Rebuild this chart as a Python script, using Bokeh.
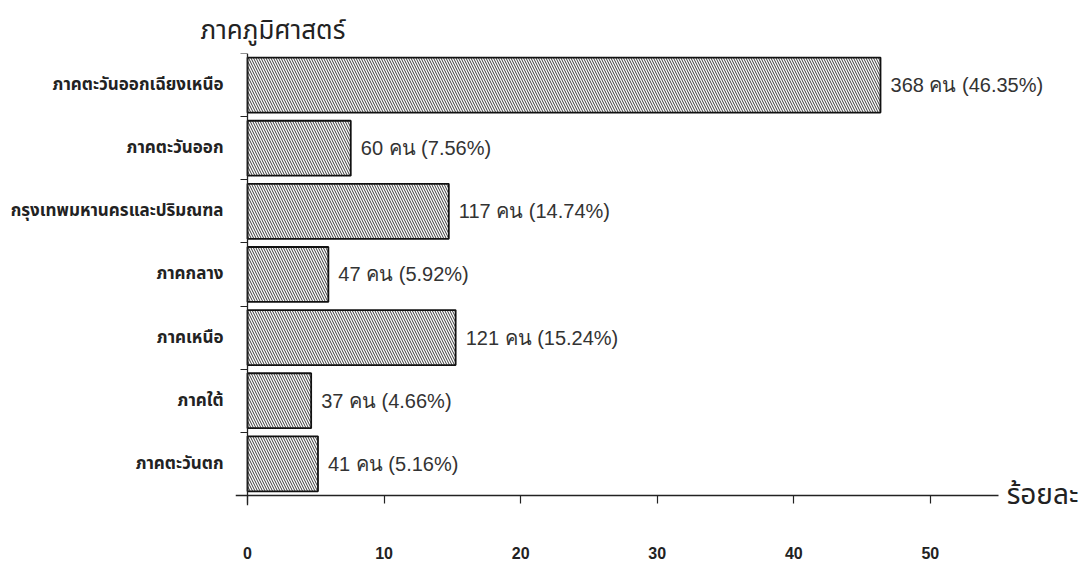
from bokeh.plotting import figure
from bokeh.models import Range1d, FixedTicker, LinearAxis, ColumnDataSource
from bokeh.embed import file_html
from bokeh.resources import INLINE
from bokeh.core.properties import value

regions = ["ภาคตะวันออกเฉียงเหนือ", "ภาคตะวันออก", "กรุงเทพมหานครและปริมณฑล",
           "ภาคกลาง", "ภาคเหนือ", "ภาคใต้", "ภาคตะวันตก"]
counts = [368, 60, 117, 47, 121, 37, 41]
percents = [46.35, 7.56, 14.74, 5.92, 15.24, 4.66, 5.16]
x_ticks = [0, 10, 20, 30, 40, 50]
title_text = "ภาคภูมิศาสตร์"
x_title = "ร้อยละ"
unit = "คน"

n = len(regions)
centers = [n - i - 0.5 for i in range(n)]
boundaries = list(range(n + 1))
labels = [f"{c} {unit} ({p:.2f}%)" for c, p in zip(counts, percents)]
src = ColumnDataSource(dict(y=centers, right=percents, label=labels))

X0, XAX = -0.88, 55          # visible extent of the horizontal axis line
X1 = 61.8                    # frame extends to the right edge for the unit label
Y0 = -0.16

THAI = "Noto Sans Thai, Noto Sans, sans-serif"
INK = "#222222"

p = figure(width=1091, height=570, x_range=Range1d(X0, X1), y_range=Range1d(Y0, n),
           output_backend="svg", toolbar_location=None,
           min_border_left=235, min_border_right=0, min_border_top=53, min_border_bottom=65)
p.outline_line_color = None
p.xgrid.visible = False
p.ygrid.visible = False

p.title.text = title_text
p.title.align = "left"
p.title.vertical_align = "top"
p.title.offset = -35
p.title.text_font = THAI
p.title.text_font_style = "normal"
p.title.text_font_size = "26px"
p.title.text_color = INK
p.title.standoff = 2

# category names (left panel, no line / ticks)
ylab = p.left[0]
ylab.ticker = FixedTicker(ticks=centers)
ylab.major_label_overrides = {c: r for c, r in zip(centers, regions)}
ylab.axis_line_color = None
ylab.major_tick_line_color = None
ylab.minor_tick_line_color = None
ylab.major_label_standoff = 6
ylab.major_label_text_font = THAI
ylab.major_label_text_font_style = "bold"
ylab.major_label_text_font_size = "17px"
ylab.major_label_text_color = INK

# tick numbers (bottom panel, no line / ticks)
xlab = p.below[0]
xlab.ticker = FixedTicker(ticks=x_ticks)
xlab.axis_line_color = None
xlab.major_tick_line_color = None
xlab.minor_tick_line_color = None
xlab.major_label_standoff = 35
xlab.major_label_text_font = "Liberation Sans"
xlab.major_label_text_font_style = "bold"
xlab.major_label_text_font_size = "16px"
xlab.major_label_text_color = INK

# vertical axis line at x = 0 with short ticks at category boundaries
vax = LinearAxis(ticker=FixedTicker(ticks=boundaries), fixed_location=0,
                 major_tick_in=7, major_tick_out=0, major_label_standoff=0,
                 major_label_overrides={b: "" for b in boundaries},
                 major_label_text_font_size="1px", minor_tick_line_color=None,
                 axis_line_color=INK, axis_line_width=1.3,
                 major_tick_line_color=INK, major_tick_line_width=1.2)
p.add_layout(vax, "right")

# horizontal axis line at y = 0 with ticks pointing down
hax = LinearAxis(ticker=FixedTicker(ticks=x_ticks), fixed_location=0, bounds=(X0, XAX),
                 major_tick_in=0, major_tick_out=8, major_label_standoff=0,
                 major_label_overrides={t: "" for t in x_ticks},
                 major_label_text_font_size="1px", minor_tick_line_color=None,
                 axis_line_color=INK, axis_line_width=1.3,
                 major_tick_line_color=INK, major_tick_line_width=1.2)
p.add_layout(hax, "below")

p.hbar(y="y", height=0.87, left=0, right="right", source=src,
       fill_color="white", line_color="#111111", line_width=1.8,
       hatch_pattern="left_diagonal_line", hatch_scale=5, hatch_weight=1.0,
       hatch_color="#3a3a3a")

p.text(x="right", y="y", text="label", source=src, x_offset=10,
       text_baseline="middle", text_align="left",
       text_font=value("Liberation Sans"), text_font_size="20px", text_color="#333333")

p.text(x=[XAX], y=[0], text=[x_title], x_offset=8, text_baseline="middle",
       text_align="left", text_font=value(THAI), text_font_size="28px",
       text_color=INK)

open("out.html", "w").write(file_html(p, INLINE))
